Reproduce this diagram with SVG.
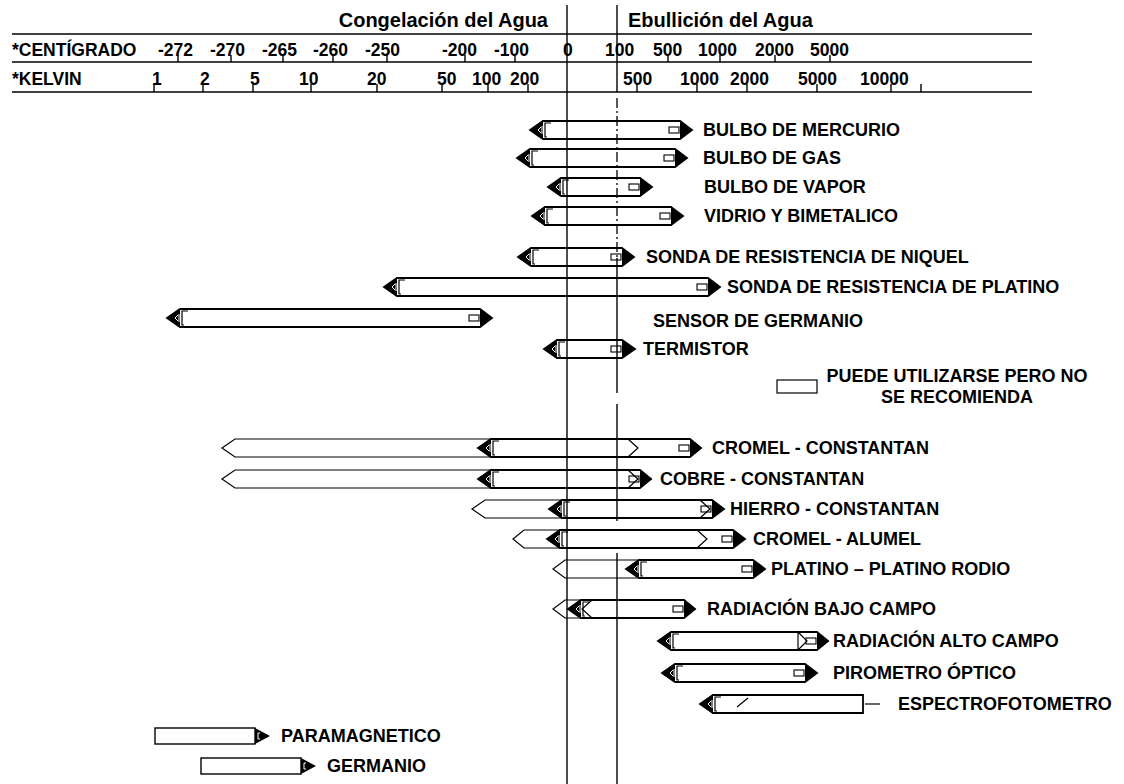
<svg xmlns="http://www.w3.org/2000/svg" xmlns:xlink="http://www.w3.org/1999/xlink" width="1124" height="784" viewBox="0 0 1124 784">
  <style>
    text { font-family: "Liberation Sans", Arial, sans-serif; font-weight: bold; fill: #000; }
    .hdr { font-size: 20px; }
    .sc { font-size: 17.5px; }
    .lbl { font-size: 18px; }
    .bar { fill: #fff; stroke: #000; stroke-width: 1.8; stroke-linejoin: miter; }
    .open { fill: none; stroke: #000; stroke-width: 1.2; stroke-linejoin: miter; }
    .head { fill: #000; }
    .tab { fill: #fff; stroke: #000; stroke-width: 1.1; }
    .mark { fill: none; stroke: #fff; stroke-width: 1; }
    .brk { fill: none; stroke: #000; stroke-width: 1.2; }
    .rule { stroke: #000; stroke-width: 1.4; fill: none; }
    .tick { stroke: #000; stroke-width: 1.4; }
    .dashdot { stroke: #000; stroke-width: 1.3; stroke-dasharray: 10 3 2 3; }
  </style>
  <defs>
    <!-- left arrowhead, origin at the tip -->
    <g id="lhead">
      <polygon class="head" points="0,0 13,-9 13,9"/>
      <polyline class="mark" points="11,-3 8,0 11,3"/>
      <line class="mark" x1="12" y1="-4" x2="12" y2="4"/>
      <polyline class="brk" points="21,-7 15,-7 15,7 17,7"/>
    </g>
    <!-- right arrowhead, origin at the end of the bar body -->
    <g id="rhead">
      <rect class="tab" x="-11" y="-3" width="10" height="6"/>
      <polygon class="head" points="0,-9 12,0 0,9"/>
    </g>
    <!-- short arrowhead for the low-temperature bars -->
    <g id="rshort">
      <polygon class="head" points="0,-8 15,0 0,8"/>
      <polyline class="mark" points="5,-3 3,-3 3,3 5,3"/>
    </g>
  </defs>

  <rect width="1124" height="784" fill="#fff"/>

  <!-- temperature scales -->
  <g id="scale">
    <text class="hdr" x="548" y="27" text-anchor="end">Congelación del Agua</text>
    <text class="hdr" x="628" y="27">Ebullición del Agua</text>
    <line class="rule" x1="12" y1="34" x2="1032" y2="34"/>
    <line class="rule" x1="12" y1="62" x2="1032" y2="62"/>
    <line class="rule" x1="12" y1="92" x2="1032" y2="92"/>

    <text class="sc" x="12" y="56">*CENTÍGRADO</text>
    <text class="sc" x="158" y="56">-272</text>
    <text class="sc" x="210" y="56">-270</text>
    <text class="sc" x="262" y="56">-265</text>
    <text class="sc" x="313" y="56">-260</text>
    <text class="sc" x="365" y="56">-250</text>
    <text class="sc" x="442" y="56">-200</text>
    <text class="sc" x="494" y="56">-100</text>
    <text class="sc" x="563" y="56">0</text>
    <text class="sc" x="605" y="56">100</text>
    <text class="sc" x="653" y="56">500</text>
    <text class="sc" x="698" y="56">1000</text>
    <text class="sc" x="755" y="56">2000</text>
    <text class="sc" x="810" y="56">5000</text>
    <g class="tick">
      <line x1="178" y1="55" x2="178" y2="62"/>
      <line x1="231" y1="55" x2="231" y2="62"/>
      <line x1="283" y1="55" x2="283" y2="62"/>
      <line x1="333" y1="55" x2="333" y2="62"/>
      <line x1="387" y1="55" x2="387" y2="62"/>
      <line x1="465" y1="55" x2="465" y2="62"/>
      <line x1="515" y1="55" x2="515" y2="62"/>
      <line x1="668" y1="55" x2="668" y2="62"/>
      <line x1="720" y1="55" x2="720" y2="62"/>
      <line x1="775" y1="55" x2="775" y2="62"/>
      <line x1="830" y1="55" x2="830" y2="62"/>
    </g>

    <text class="sc" x="12" y="85">*KELVIN</text>
    <text class="sc" x="152" y="85">1</text>
    <text class="sc" x="200" y="85">2</text>
    <text class="sc" x="250" y="85">5</text>
    <text class="sc" x="299" y="85">10</text>
    <text class="sc" x="367" y="85">20</text>
    <text class="sc" x="437" y="85">50</text>
    <text class="sc" x="472" y="85">100</text>
    <text class="sc" x="510" y="85">200</text>
    <text class="sc" x="623" y="85">500</text>
    <text class="sc" x="680" y="85">1000</text>
    <text class="sc" x="730" y="85">2000</text>
    <text class="sc" x="798" y="85">5000</text>
    <text class="sc" x="860" y="85">10000</text>
    <g class="tick">
      <line x1="154" y1="84" x2="154" y2="92"/>
      <line x1="203" y1="84" x2="203" y2="92"/>
      <line x1="253" y1="84" x2="253" y2="92"/>
      <line x1="311" y1="84" x2="311" y2="92"/>
      <line x1="377" y1="84" x2="377" y2="92"/>
      <line x1="442" y1="84" x2="442" y2="92"/>
      <line x1="488" y1="84" x2="488" y2="92"/>
      <line x1="528" y1="84" x2="528" y2="92"/>
      <line x1="637" y1="84" x2="637" y2="92"/>
      <line x1="697" y1="84" x2="697" y2="92"/>
      <line x1="747" y1="84" x2="747" y2="92"/>
      <line x1="817" y1="84" x2="817" y2="92"/>
      <line x1="891" y1="84" x2="891" y2="92"/>
      <line x1="921" y1="84" x2="921" y2="92"/>
    </g>
  </g>

  <!-- liquid / expansion thermometers -->
  <g id="bulbo-mercurio">
    <polygon class="bar" points="530,130 543,121 680,121 692,130 680,139 543,139"/>
    <use xlink:href="#lhead" x="530" y="130"/><use xlink:href="#rhead" x="680" y="130"/>
    <text class="lbl" x="703" y="136">BULBO DE MERCURIO</text>
  </g>
  <g id="bulbo-gas">
    <polygon class="bar" points="517,158 530,149 675,149 687,158 675,167 530,167"/>
    <use xlink:href="#lhead" x="517" y="158"/><use xlink:href="#rhead" x="675" y="158"/>
    <text class="lbl" x="703" y="164">BULBO DE GAS</text>
  </g>
  <g id="bulbo-vapor">
    <polygon class="bar" points="548,187 561,178 640,178 652,187 640,196 561,196"/>
    <use xlink:href="#lhead" x="548" y="187"/><use xlink:href="#rhead" x="640" y="187"/>
    <text class="lbl" x="704" y="193">BULBO DE VAPOR</text>
  </g>
  <g id="vidrio-bimetalico">
    <polygon class="bar" points="532,216 545,207 671,207 683,216 671,225 545,225"/>
    <use xlink:href="#lhead" x="532" y="216"/><use xlink:href="#rhead" x="671" y="216"/>
    <text class="lbl" x="704" y="222">VIDRIO Y BIMETALICO</text>
  </g>

  <!-- resistance sensors -->
  <g id="sonda-niquel">
    <polygon class="bar" points="518,257 531,248 622,248 634,257 622,266 531,266"/>
    <use xlink:href="#lhead" x="518" y="257"/><use xlink:href="#rhead" x="622" y="257"/>
    <text class="lbl" x="646" y="263">SONDA DE RESISTENCIA DE NIQUEL</text>
  </g>
  <g id="sonda-platino">
    <polygon class="bar" points="384,287 397,278 708,278 720,287 708,296 397,296"/>
    <use xlink:href="#lhead" x="384" y="287"/><use xlink:href="#rhead" x="708" y="287"/>
    <text class="lbl" x="727" y="293">SONDA DE RESISTENCIA DE PLATINO</text>
  </g>
  <g id="sensor-germanio">
    <polygon class="bar" points="167,318 180,309 480,309 492,318 480,327 180,327"/>
    <use xlink:href="#lhead" x="167" y="318"/><use xlink:href="#rhead" x="480" y="318"/>
    <text class="lbl" x="653" y="327">SENSOR DE GERMANIO</text>
  </g>
  <g id="termistor">
    <polygon class="bar" points="544,349 557,340 622,340 635,349 622,358 557,358"/>
    <use xlink:href="#lhead" x="544" y="349"/><use xlink:href="#rhead" x="622" y="349"/>
    <text class="lbl" x="643" y="355">TERMISTOR</text>
  </g>

  <!-- key -->
  <g id="legend">
    <rect x="777" y="380" width="40" height="13" fill="#fff" stroke="#000" stroke-width="1.2"/>
    <text class="lbl" x="957" y="382" text-anchor="middle">PUEDE UTILIZARSE PERO NO</text>
    <text class="lbl" x="957" y="403" text-anchor="middle">SE RECOMIENDA</text>
  </g>

  <!-- thermocouples: open outline = usable, solid = recommended -->
  <g id="cromel-constantan">
    <polygon class="bar" points="478,448 491,439 690,439 701,448 690,457 491,457"/>
    <use xlink:href="#lhead" x="478" y="448"/><use xlink:href="#rhead" x="690" y="448"/>
    <path class="open" d="M491,439 H235 L222,448 L235,457 H491 M628,439 L638,448 L628,457"/>
    <text class="lbl" x="712" y="454">CROMEL - CONSTANTAN</text>
  </g>
  <g id="cobre-constantan">
    <polygon class="bar" points="478,479 491,470 640,470 651,479 640,488 491,488"/>
    <use xlink:href="#lhead" x="478" y="479"/><use xlink:href="#rhead" x="640" y="479"/>
    <path class="open" d="M491,470 H235 L222,479 L235,488 H491 M628,470 L638,479 L628,488"/>
    <text class="lbl" x="660" y="485">COBRE - CONSTANTAN</text>
  </g>
  <g id="hierro-constantan">
    <polygon class="bar" points="549,509 562,500 712,500 724,509 712,518 562,518"/>
    <use xlink:href="#lhead" x="549" y="509"/><use xlink:href="#rhead" x="712" y="509"/>
    <path class="open" d="M562,500 H485 L472,509 L485,518 H562 M700,500 L710,509 L700,518"/>
    <text class="lbl" x="730" y="515">HIERRO - CONSTANTAN</text>
  </g>
  <g id="cromel-alumel">
    <polygon class="bar" points="547,539 560,530 733,530 745,539 733,548 560,548"/>
    <use xlink:href="#lhead" x="547" y="539"/><use xlink:href="#rhead" x="733" y="539"/>
    <path class="open" d="M560,530 H524 L513,539 L524,548 H560 M697,530 L707,539 L697,548"/>
    <text class="lbl" x="753" y="545">CROMEL - ALUMEL</text>
  </g>
  <g id="platino-rodio">
    <polygon class="bar" points="626,569 639,560 753,560 765,569 753,578 639,578"/>
    <use xlink:href="#lhead" x="626" y="569"/><use xlink:href="#rhead" x="753" y="569"/>
    <path class="open" d="M639,560 H565 L553,569 L565,578 H639"/>
    <text class="lbl" x="771" y="575">PLATINO – PLATINO RODIO</text>
  </g>

  <!-- radiation and optical instruments -->
  <g id="radiacion-bajo">
    <polygon class="bar" points="568,609 581,600 684,600 695,609 684,618 581,618"/>
    <use xlink:href="#lhead" x="568" y="609"/><use xlink:href="#rhead" x="684" y="609"/>
    <path class="open" d="M581,600 H565 L553,609 L565,618 H581 M592,600 L582,609 L592,618"/>
    <text class="lbl" x="707" y="615">RADIACIÓN BAJO CAMPO</text>
  </g>
  <g id="radiacion-alto">
    <polygon class="bar" points="658,641 671,632 817,632 828,641 817,650 671,650"/>
    <use xlink:href="#lhead" x="658" y="641"/><use xlink:href="#rhead" x="817" y="641"/>
    <path class="open" d="M798,632 V650 M798,632 L807,641 L798,650"/>
    <text class="lbl" x="833" y="647">RADIACIÓN ALTO CAMPO</text>
  </g>
  <g id="pirometro">
    <polygon class="bar" points="662,673 675,664 805,664 817,673 805,682 675,682"/>
    <use xlink:href="#lhead" x="662" y="673"/><use xlink:href="#rhead" x="805" y="673"/>
    <text class="lbl" x="833" y="679">PIROMETRO ÓPTICO</text>
  </g>
  <g id="espectrofotometro">
    <polygon class="bar" points="700,704 713,695 863,695 863,713 713,713"/>
    <use xlink:href="#lhead" x="700" y="704"/>
    <line class="open" x1="737" y1="707" x2="748" y2="698"/>
    <line class="open" x1="865" y1="704" x2="880" y2="704"/>
    <text class="lbl" x="898" y="710">ESPECTROFOTOMETRO</text>
  </g>

  <!-- low-temperature methods -->
  <g id="paramagnetico">
    <rect x="155" y="728" width="100" height="16" fill="#fff" stroke="#000" stroke-width="1.4"/>
    <use xlink:href="#rshort" x="255" y="736"/>
    <text class="lbl" x="281" y="742">PARAMAGNETICO</text>
  </g>
  <g id="germanio">
    <rect x="201" y="758" width="100" height="16" fill="#fff" stroke="#000" stroke-width="1.4"/>
    <use xlink:href="#rshort" x="301" y="766"/>
    <text class="lbl" x="327" y="772">GERMANIO</text>
  </g>

  <!-- reference lines: 0 °C and 100 °C -->
  <g id="connectors">
    <line class="rule" x1="567" y1="5" x2="567" y2="784"/>
    <line class="rule" x1="617" y1="5" x2="617" y2="92"/>
    <line class="dashdot" x1="617" y1="98" x2="617" y2="258"/>
    <line class="rule" x1="617" y1="258" x2="617" y2="393"/>
    <line class="rule" x1="617" y1="404" x2="617" y2="521"/>
    <line class="rule" x1="617" y1="553" x2="617" y2="784"/>
  </g>
</svg>
